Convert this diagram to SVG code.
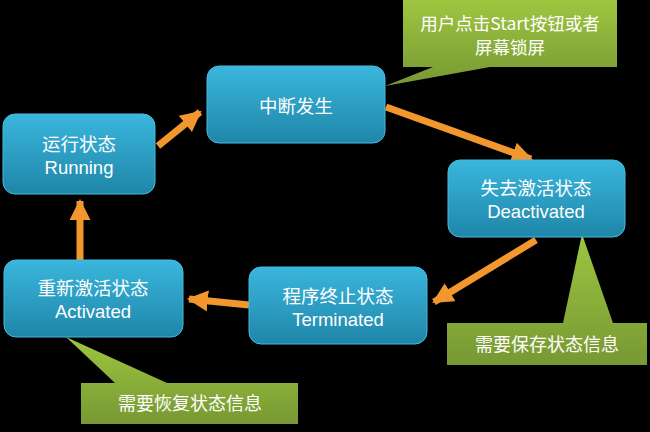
<svg xmlns="http://www.w3.org/2000/svg" width="650" height="432" viewBox="0 0 650 432">
<defs>
<linearGradient id="blue" x1="0" y1="0" x2="0" y2="1">
<stop offset="0" stop-color="#3AB6DD"/>
<stop offset="1" stop-color="#1F86A8"/>
</linearGradient>
<linearGradient id="green" x1="0" y1="0" x2="0" y2="1">
<stop offset="0" stop-color="#9EC640"/>
<stop offset="1" stop-color="#779833"/>
</linearGradient>
<marker id="ah" viewBox="0 0 10 10" refX="9" refY="5" markerWidth="3" markerHeight="3" orient="auto" markerUnits="strokeWidth">
<path d="M0,0 L10,5 L0,10 Z" fill="#F2962E"/>
</marker>
</defs>
<style>
.node rect{fill:url(#blue);stroke:#45BBE0;stroke-width:1}
.t{font-family:"Noto Sans CJK SC","Noto Sans",sans-serif;fill:#FFFFFF;text-anchor:middle}
.nt{font-size:18.5px}
.lt{font-family:"Liberation Sans","Noto Sans",sans-serif;font-size:18.5px}
.ct{font-size:18px}
.ct2{font-size:17.5px}
.callout{fill:url(#green)}
.conn line{stroke:#F2962E;stroke-width:7;marker-end:url(#ah)}
</style>
<rect x="0" y="0" width="650" height="432" fill="#000000"/>

<g id="connectors" class="conn">
<line x1="158" y1="146" x2="200" y2="112"/>
<line x1="386" y1="107" x2="531" y2="159"/>
<line x1="536" y1="240" x2="434" y2="302"/>
<line x1="249" y1="305" x2="189" y2="299"/>
<line x1="80" y1="260" x2="80" y2="201"/>
</g>

<g id="callout-start">
<path class="callout" d="M403,0 H617 V67 H490 L385,86 L433,67 H403 Z"/>
<text class="t ct2" x="510" y="30">用户点击Start按钮或者</text>
<text class="t ct2" x="510" y="54">屏幕锁屏</text>
</g>

<g id="callout-save">
<path class="callout" d="M447,323 H563 L582,234 L613,323 H647 V365 H447 Z"/>
<text class="t ct" x="547" y="351">需要保存状态信息</text>
</g>

<g id="callout-restore">
<path class="callout" d="M81,383 H115 L66,337 L167,383 H298 V424 H81 Z"/>
<text class="t ct" x="190" y="410">需要恢复状态信息</text>
</g>

<g id="node-running" class="node">
<rect x="3" y="114" width="152" height="80" rx="12"/>
<text class="t nt" x="79" y="151">运行状态</text>
<text class="t lt" x="79" y="173.5">Running</text>
</g>

<g id="node-interrupt" class="node">
<rect x="207" y="66" width="178" height="77" rx="12"/>
<text class="t nt" x="296" y="113">中断发生</text>
</g>

<g id="node-deactivated" class="node">
<rect x="448" y="160" width="177" height="77" rx="12"/>
<text class="t nt" x="536" y="195">失去激活状态</text>
<text class="t lt" x="536" y="217.5">Deactivated</text>
</g>

<g id="node-terminated" class="node">
<rect x="249" y="267" width="178" height="77" rx="12"/>
<text class="t nt" x="338" y="303">程序终止状态</text>
<text class="t lt" x="338" y="325.5">Terminated</text>
</g>

<g id="node-activated" class="node">
<rect x="4" y="260" width="179" height="77" rx="12"/>
<text class="t nt" x="93" y="295">重新激活状态</text>
<text class="t lt" x="93" y="317.5">Activated</text>
</g>
</svg>
